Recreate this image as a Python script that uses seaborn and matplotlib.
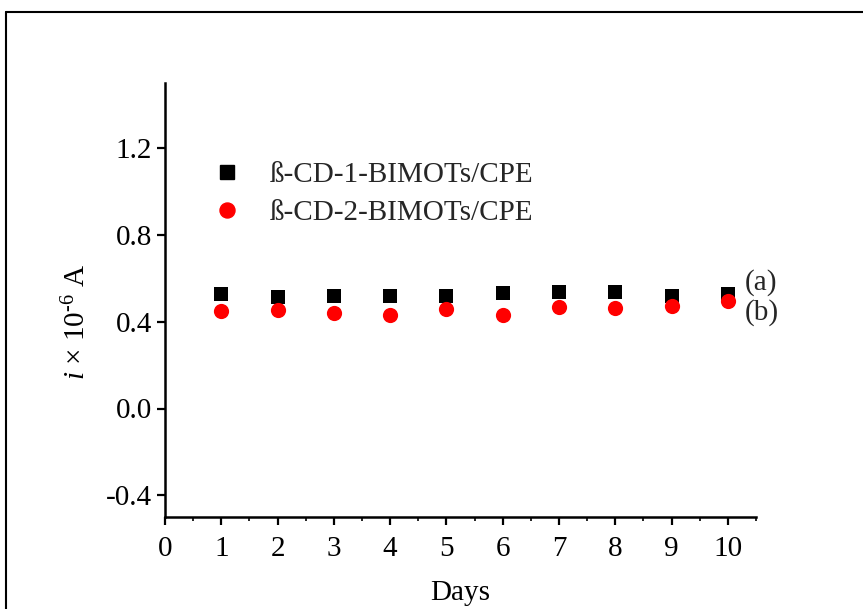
import matplotlib
matplotlib.use("Agg")
import matplotlib.pyplot as plt
import pandas as pd
import seaborn as sns
from matplotlib.lines import Line2D
from matplotlib.ticker import MultipleLocator

# Measured current over ten days for the two modified electrodes
days = [1, 2, 3, 4, 5, 6, 7, 8, 9, 10]
current_cd1 = [0.529, 0.514, 0.518, 0.520, 0.520, 0.532, 0.537, 0.537, 0.518, 0.526]
current_cd2 = [0.449, 0.452, 0.442, 0.432, 0.460, 0.429, 0.467, 0.465, 0.471, 0.495]
series_labels = ["ß-CD-1-BIMOTs/CPE", "ß-CD-2-BIMOTs/CPE"]
curve_tags = ["(a)", "(b)"]
x_ticks = list(range(0, 11))
y_ticks = [-0.4, 0.0, 0.4, 0.8, 1.2]

sns.set_style("ticks")
plt.rcParams["font.family"] = ["Liberation Serif", "DejaVu Serif"]
plt.rcParams["mathtext.fontset"] = "custom"
plt.rcParams["mathtext.rm"] = "Liberation Serif"
plt.rcParams["mathtext.it"] = "Liberation Serif:italic"

FS = 21

W, H = 863, 609
fig = plt.figure(figsize=(W / 100, H / 100), dpi=100)
fig.patch.set_facecolor("white")

ax_l, ax_r, ax_t, ax_b = 165, 756, 83, 517
ax = fig.add_axes([ax_l / W, 1 - ax_b / H, (ax_r - ax_l) / W, (ax_b - ax_t) / H])

df1 = pd.DataFrame({"Days": days, "Current": current_cd1})
df2 = pd.DataFrame({"Days": days, "Current": current_cd2})
sns.scatterplot(data=df1, x="Days", y="Current", marker="s", color="black",
                s=90, linewidth=0, ax=ax, zorder=3)
sns.scatterplot(data=df2, x="Days", y="Current", marker="o", color="#ff0000",
                s=120, linewidth=0, ax=ax, zorder=4)

ax.set_xlim(0, 10.5)
ax.set_ylim(-0.5, 1.5)
ax.set_xticks(x_ticks)
ax.set_xticklabels([str(v) for v in x_ticks])
ax.xaxis.set_minor_locator(MultipleLocator(0.5))
ax.set_yticks(y_ticks)
ax.set_yticklabels([f"{v:.1f}" for v in y_ticks])

for side in ["top", "right"]:
    ax.spines[side].set_visible(False)
for side in ["left", "bottom"]:
    ax.spines[side].set_linewidth(1.8)
    ax.spines[side].set_color("black")

ax.tick_params(axis="both", which="major", direction="out", length=5.5,
               width=1.6, color="black", labelsize=FS, labelcolor="black")
ax.tick_params(axis="x", which="major", pad=8)
ax.tick_params(axis="y", which="major", pad=4)
ax.tick_params(axis="x", which="minor", direction="out", length=3,
               width=1.2, color="black")

ax.set_xlabel("Days", fontsize=FS, color="black")
ax.set_ylabel("$i$ × 10$^{\u2010 6}$ A", fontsize=FS, color="black")
ax.xaxis.set_label_coords(0.5, -0.146)
ax.yaxis.set_label_coords(-0.125, 0.45)

# curve tags at the right end of each series
ax.text(10.3, 0.580, curve_tags[0], fontsize=FS, va="center", ha="left")
ax.text(10.3, 0.440, curve_tags[1], fontsize=FS, va="center", ha="left")

handles = [
    Line2D([], [], marker="s", linestyle="none", color="black", markersize=9.4),
    Line2D([], [], marker="o", linestyle="none", color="#ff0000", markersize=10.8),
]
fig.legend(handles, series_labels, loc="upper left",
           bbox_to_anchor=(212 / W, 1 - 162 / H), frameon=False,
           fontsize=FS, handlelength=1.0, handletextpad=0.97,
           labelspacing=0.4, borderpad=0, borderaxespad=0)

# outer frame around the figure
fig.add_artist(Line2D([6 / W, 6 / W], [0, 1 - 12 / H], transform=fig.transFigure,
                      color="black", linewidth=1.5))
fig.add_artist(Line2D([6 / W, 1], [1 - 12 / H, 1 - 12 / H], transform=fig.transFigure,
                      color="black", linewidth=1.5))

fig.savefig("out.png", dpi=100)
